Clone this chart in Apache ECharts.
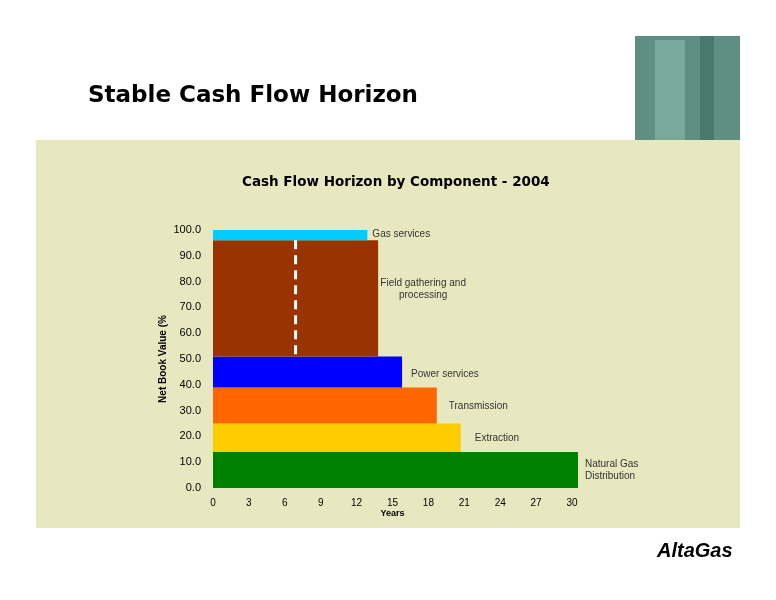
<!DOCTYPE html>
<html><head><meta charset="utf-8">
<script src="https://cdn.jsdelivr.net/npm/echarts@6/dist/echarts.min.js"></script>
<style>html,body{margin:0;padding:0;background:#fff}#c{width:776px;height:600px}</style>
</head><body><div id="c"></div>
<script>
var components = ['Natural Gas\nDistribution','Extraction','Transmission','Power services','Field gathering and\nprocessing','Gas services'];
var lowerPct = [0, 14, 25, 39, 51, 96];
var upperPct = [14, 25, 39, 51, 96, 100];
var horizonYears = [30.5, 20.7, 18.7, 15.8, 13.8, 12.9];
var colors = ['#008000','#ffcc00','#ff6600','#0000ff','#993300','#00ccff'];
var avgYears = 6.9;
var xTicks = [0,3,6,9,12,15,18,21,24,27,30];

// label pixel offsets (style only)
var lblStyle = [
  {dx:7, dy:0, align:'left'},
  {dx:14, dy:1, align:'left'},
  {dx:12, dy:1, align:'left'},
  {dx:9, dy:2, align:'left'},
  {dx:45, dy:-9, align:'center'},
  {dx:5, dy:1, align:'left'}
];

var chart = echarts.init(document.getElementById('c'));
chart.setOption({
  backgroundColor:'#ffffff',
  animation:false,
  graphic:[
    {type:'rect',shape:{x:36,y:140,width:704,height:388},style:{fill:'#e8e8c0'},z:-10},
    {type:'rect',shape:{x:635,y:36,width:105,height:104},style:{fill:'#5f8f82'},z:-9},
    {type:'rect',shape:{x:655,y:40,width:30,height:100},style:{fill:'#7aa89a'},z:-8},
    {type:'rect',shape:{x:700,y:36,width:14,height:104},style:{fill:'#4a786c'},z:-8},
    {type:'text',left:88,top:85,style:{text:'Stable Cash Flow Horizon',font:'bold 23px "DejaVu Sans"',fill:'#000'}},
    {type:'text',left:242,top:175,style:{text:'Cash Flow Horizon by Component - 2004',font:'bold 13.5px "DejaVu Sans"',fill:'#000'}},
    {type:'text',left:657,top:541,style:{text:'AltaGas',font:'italic bold 20px "Liberation Sans"',fill:'#000'}}
  ],
  grid:{left:213,top:230,width:359,bottom:112},
  xAxis:{type:'value',min:0,max:30,interval:3,name:'Years',nameLocation:'middle',nameGap:20,
    nameTextStyle:{fontFamily:'Liberation Sans',fontSize:9,fontWeight:'bold',color:'#000'},
    axisLine:{show:false},axisTick:{show:false},splitLine:{show:false},
    axisLabel:{fontFamily:'Liberation Sans',fontSize:10,color:'#000',margin:10}},
  yAxis:{type:'value',min:0,max:100,interval:10,name:'Net Book Value (%',nameLocation:'middle',nameGap:45,
    nameTextStyle:{fontFamily:'Liberation Sans',fontSize:10,fontWeight:'bold',color:'#000'},
    axisLine:{show:false},axisTick:{show:false},splitLine:{show:false},
    axisLabel:{fontFamily:'Liberation Sans',fontSize:11,color:'#000',margin:12,formatter:function(v){return v.toFixed(1);}}},
  series:[{
    type:'custom',clip:false,
    data:components.map(function(n,i){return [i];}),
    renderItem:function(params,api){
      var i=api.value(0);
      var p0=api.coord([0,upperPct[i]]), p1=api.coord([horizonYears[i],lowerPct[i]]);
      var mid=api.coord([horizonYears[i],(lowerPct[i]+upperPct[i])/2]);
      var ls=lblStyle[i];
      var children=[
        {type:'rect',shape:{x:p0[0],y:p0[1],width:p1[0]-p0[0],height:p1[1]-p0[1]},style:{fill:colors[i]}},
        {type:'text',x:mid[0]+ls.dx,y:(i===5?p0[1]+ls.dy+3:mid[1]+ls.dy),style:{text:components[i],fill:'#333',font:'10px "Liberation Sans"',align:ls.align,verticalAlign:'middle',lineHeight:12}}
      ];
      if(i===4){
        var a=api.coord([avgYears,upperPct[i]]), b=api.coord([avgYears,lowerPct[i]]);
        children.push({type:'line',shape:{x1:a[0],y1:a[1],x2:b[0],y2:b[1]},style:{stroke:'#fff',lineWidth:3,lineDash:[9,6]},z2:10});
      }
      return {type:'group',children:children};
    }
  }]
});
</script></body></html>
